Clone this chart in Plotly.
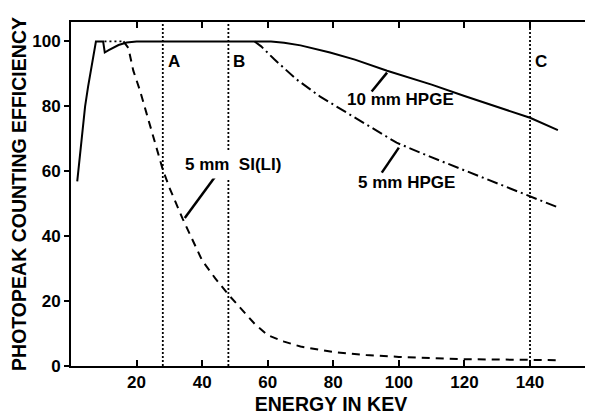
import plotly.graph_objects as go

# ---------------- data ----------------
energy_10mm = [1.9, 2.7, 3.5, 4.3, 5.2, 6.0, 6.8, 7.6, 9.8, 10.3, 11.5, 12.8, 14.5, 17, 20,
               30, 40, 50, 61, 65, 70, 79, 86.6, 96.4, 110, 120, 130, 140, 148.5]
eff_10mm = [56.9, 65, 72.8, 80, 86, 91, 95.5, 100, 100, 96.6, 97.3, 98.1, 98.9, 99.7, 100,
            100, 100, 100, 100, 99.6, 98.8, 96.6, 94.4, 91, 86.7, 83.2, 79.9, 76.5, 72.7]

energy_5mm = [56, 58, 62, 68.8, 76, 84, 92, 99.3, 109.5, 120, 130, 140, 148.2]
eff_5mm = [100, 98.5, 94.5, 88.3, 83, 78.1, 73, 68.8, 64.5, 60.3, 56.3, 52.2, 49]

energy_sili_top = [10.2, 16]
eff_sili_top = [100, 100]
energy_sili = [16, 17.5, 19, 21, 23, 25, 27, 28, 30, 34, 40, 44, 48, 52, 56, 60, 65, 70,
               80, 90, 100, 120, 140, 148.5]
eff_sili = [100, 98, 91, 85, 78, 71, 64, 60.5, 55, 45.5, 32.5, 27, 22, 17.5, 13, 9.5, 7.5, 6,
            4.3, 3.4, 2.8, 2.1, 1.8, 1.8]

marker_energies = [28, 48, 140]
marker_labels = ["A", "B", "C"]

x_ticks = [20, 40, 60, 80, 100, 120, 140]
y_ticks = [0, 20, 40, 60, 80, 100]

curve_labels = ["10 mm HPGE", "5 mm HPGE", "5 mm  SI(LI)"]
label_pos_x = [100.6, 102.2, 49.4]
label_pos_y = [82.1, 56.5, 62.0]
leader_x0 = [91.7, 94.8, 34.7]
leader_y0 = [84.6, 59.6, 45.6]
leader_x1 = [96.4, 100.0, 44.4]
leader_y1 = [90.4, 67.3, 58.9]

X_RANGE = [0, 158.6]
Y_RANGE = [0, 106.0]

FONT = "Liberation Sans, Arial, sans-serif"

fig = go.Figure()

# vertical dotted reference lines
for e in marker_energies:
    fig.add_trace(go.Scatter(x=[e, e], y=Y_RANGE, mode="lines",
                             line=dict(color="black", width=1.8, dash="2px,2px"),
                             hoverinfo="skip", showlegend=False))

fig.add_trace(go.Scatter(x=energy_sili_top, y=eff_sili_top, mode="lines",
                         line=dict(color="black", width=1.8, dash="2px,3px"), showlegend=False))
fig.add_trace(go.Scatter(x=energy_sili, y=eff_sili, mode="lines",
                         line=dict(color="black", width=2, dash="8px,6px"), showlegend=False))
fig.add_trace(go.Scatter(x=energy_5mm, y=eff_5mm, mode="lines",
                         line=dict(color="black", width=2, dash="11px,4px,2px,4px"), showlegend=False))
fig.add_trace(go.Scatter(x=energy_10mm, y=eff_10mm, mode="lines",
                         line=dict(color="black", width=2), showlegend=False))

# empty trace carrying the top / right frame axes
fig.add_trace(go.Scatter(x=[None], y=[None], xaxis="x2", yaxis="y2",
                         showlegend=False, hoverinfo="skip"))

# leader lines
for i in range(len(curve_labels)):
    fig.add_shape(type="line", xref="x", yref="y",
                  x0=leader_x0[i], y0=leader_y0[i], x1=leader_x1[i], y1=leader_y1[i],
                  line=dict(color="black", width=2.5))

annotations = []
for i, t in enumerate(curve_labels):
    annotations.append(dict(x=label_pos_x[i], y=label_pos_y[i], xref="x", yref="y",
                            text=t, showarrow=False,
                            font=dict(family=FONT, size=17, color="black", weight="bold"),
                            bgcolor="white" if "SI" in t else "rgba(0,0,0,0)",
                            borderpad=4))
for e, lab in zip(marker_energies, marker_labels):
    annotations.append(dict(x=e, y=93.9, xref="x", yref="y", text=lab, showarrow=False,
                            xanchor="left", xshift=3,
                            font=dict(family=FONT, size=17, color="black", weight="bold")))

frame = dict(showgrid=False, zeroline=False, showline=True, linewidth=2,
             linecolor="black", tickcolor="black", tickwidth=2)

# the page body has an 8 px default margin, so the figure is 8 px smaller
fig.update_layout(
    width=585, height=409,
    margin=dict(l=63, r=2, t=14, b=51),
    paper_bgcolor="white", plot_bgcolor="white",
    font=dict(family=FONT, color="black"),
    annotations=annotations,
    xaxis=dict(range=X_RANGE, tickvals=x_ticks, ticktext=[str(v) for v in x_ticks],
               ticks="inside", ticklen=6, **frame,
               tickfont=dict(family=FONT, size=17, weight="bold"),
               title=dict(text="ENERGY IN KEV", standoff=6,
                          font=dict(family=FONT, size=19.5, weight="bold"))),
    yaxis=dict(range=Y_RANGE, tickvals=y_ticks, ticktext=[str(v) for v in y_ticks],
               ticks="outside", ticklen=5, **frame,
               tickfont=dict(family=FONT, size=17, weight="bold"),
               title=dict(text="PHOTOPEAK COUNTING EFFICIENCY", standoff=8,
                          font=dict(family=FONT, size=19.5, weight="bold"))),
    xaxis2=dict(range=X_RANGE, overlaying="x", side="top", tickvals=x_ticks,
                ticks="inside", ticklen=6, showticklabels=False, **frame),
    yaxis2=dict(range=Y_RANGE, overlaying="y", side="right", tickvals=y_ticks,
                ticks="inside", ticklen=6, showticklabels=False, **frame),
)

fig.write_html("out.html")
